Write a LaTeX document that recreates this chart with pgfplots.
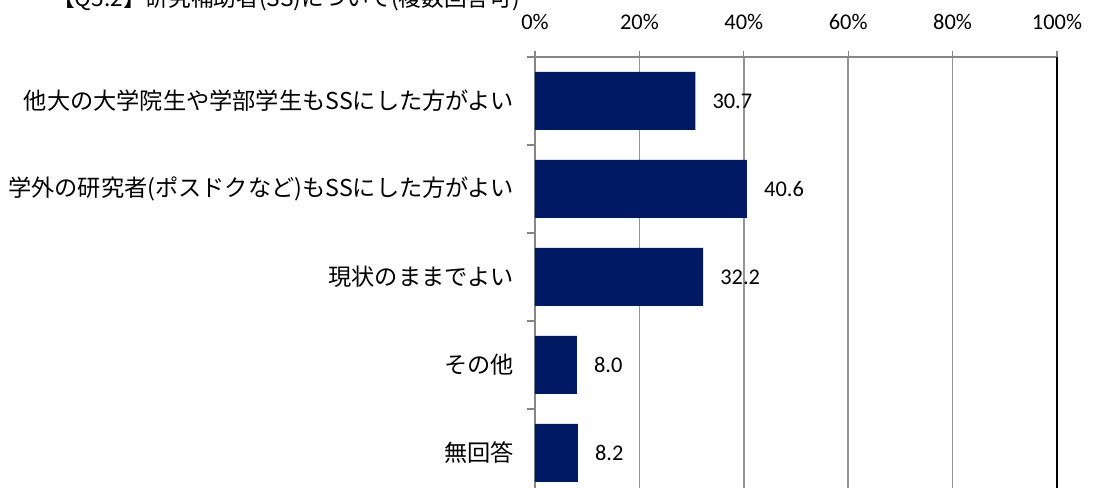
\documentclass[border=0pt]{standalone}
\usepackage{pgfplots}
\pgfplotsset{compat=1.18}
\usepackage{fontspec}
\setmainfont{Carlito}
\newfontfamily\jp{Noto Sans CJK JP}
\definecolor{navy}{RGB}{0,25,100}
\definecolor{gridgray}{RGB}{150,150,150}
\definecolor{axgray}{RGB}{134,134,134}
\begin{document}
\begin{tikzpicture}[x=0.75pt,y=0.75pt]
\useasboundingbox (0,0) rectangle (1107,488);
\node[anchor=base west, inner sep=0pt, font=\jp\fontsize{17}{17}\selectfont] at (52,481) {【Q5.2】研究補助者(SS)について(複数回答可)};
\begin{axis}[
  at={(401.25pt,323.25pt)}, anchor=north west,
  scale only axis, width=391.5pt, height=330pt,
  xmin=0, xmax=100, ymin=0.5, ymax=5.5, y dir=reverse,
  axis x line*=top, axis y line*=left,
  axis line style={axgray, line width=1pt},
  xtick={0,20,40,60,80}, xticklabels={0\%,20\%,40\%,60\%,80\%},
  extra x ticks={100}, extra x tick labels={100\%},
  extra x tick style={grid style={black, line width=2pt}},
  xmajorgrids, grid style={gridgray, line width=1.2pt},
  tick align=outside,
  major tick length=4.5pt,
  tick style={axgray, line width=1pt},
  xticklabel style={anchor=base, inner sep=0pt, yshift=16pt, font=\fontsize{16.8}{16.8}\selectfont},
  ytick={1,2,3,4,5},
  yticklabels={他大の大学院生や学部学生もSSにした方がよい,学外の研究者(ポスドクなど)もSSにした方がよい,現状のままでよい,その他,無回答},
  yticklabel style={anchor=east, inner sep=0pt, xshift=-11pt, font=\jp\fontsize{17.4}{17.4}\selectfont},
  minor ytick={0.5,1.5,2.5,3.5,4.5},
  major y tick style={draw=none},
  minor y tick style={axgray, line width=1pt},
  minor tick length=6pt,
  xbar, bar width=43.5pt, bar shift=0pt,
  point meta=x,
  nodes near coords={\pgfmathprintnumber[fixed, fixed zerofill, precision=1, assume math mode=true]{\pgfplotspointmeta}},
  nodes near coords style={anchor=west, inner sep=0pt, xshift=12.75pt, black, font=\fontsize{16.8}{16.8}\selectfont},
  clip=false,
]
\addplot[fill=navy, draw=none] coordinates {(30.7,1) (40.6,2) (32.2,3) (8.0,4) (8.2,5)};
\end{axis}
\end{tikzpicture}
\end{document}
